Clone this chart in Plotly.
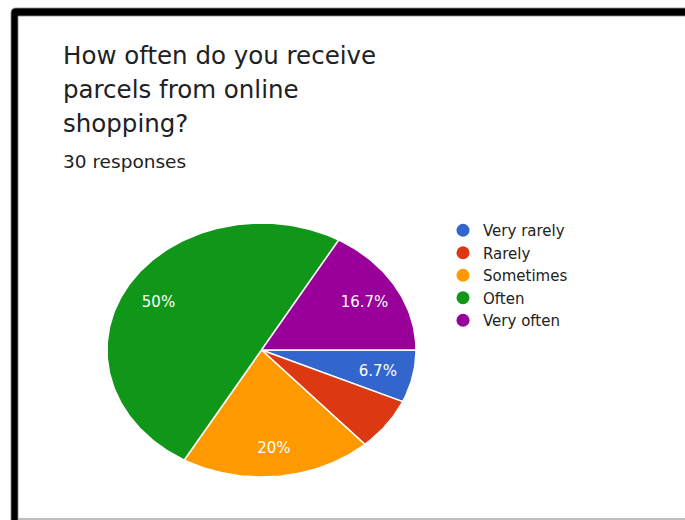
import numpy as np
import plotly.graph_objects as go

# Survey answers: "How often do you receive parcels from online shopping?"
categories = ["Very rarely", "Rarely", "Sometimes", "Often", "Very often"]
responses = [2, 2, 6, 15, 5]
colors = ["#3366cc", "#dc3912", "#ff9900", "#109618", "#990099"]
show_label = [True, False, True, True, True]

title_lines = ["How often do you receive", "parcels from online", "shopping?"]
subtitle = "30 responses"

# Canvas and pie geometry (axes are mapped 1:1 to pixels)
W, H = 685, 520
CX, CY, RX, RY = 261.5, 350.0, 154.5, 127.0
LABEL_R = 0.77
LABEL_DY = 2
FONT = "DejaVu Sans"

total = sum(responses)
fractions = [v / total for v in responses]
edges = np.concatenate([[0.0], np.cumsum(fractions)]) * 2 * np.pi

fig = go.Figure()

# Pie wedges, clockwise from 3 o'clock
lab_x, lab_y, lab_t = [], [], []
for cat, frac, col, a0, a1, show in zip(categories, fractions, colors,
                                        edges[:-1], edges[1:], show_label):
    n = max(int(np.ceil((a1 - a0) / (2 * np.pi) * 360)), 2)
    t = np.linspace(a0, a1, n + 1)
    xs = np.concatenate([[CX], CX + RX * np.cos(t), [CX]])
    ys = np.concatenate([[CY], CY + RY * np.sin(t), [CY]])
    fig.add_trace(go.Scatter(
        x=xs, y=ys, mode="lines", fill="toself", fillcolor=col,
        line=dict(color="white", width=1.5), hoverinfo="skip",
        showlegend=False,
    ))
    if show:
        mid = (a0 + a1) / 2
        lab_x.append(CX + LABEL_R * RX * np.cos(mid))
        lab_y.append(CY + LABEL_R * RY * np.sin(mid) + LABEL_DY)
        lab_t.append(f"{round(frac * 100, 1):g}%")

# Percentage labels inside the slices
fig.add_trace(go.Scatter(
    x=lab_x, y=lab_y, mode="text", text=lab_t,
    textposition="middle center",
    textfont=dict(family=FONT, size=15, color="white"),
    hoverinfo="skip", showlegend=False,
))

# Legend entries (round swatches)
for cat, col in zip(categories, colors):
    fig.add_trace(go.Scatter(
        x=[None], y=[None], mode="markers", name=cat,
        marker=dict(symbol="circle", size=13, color=col),
    ))

# Question title and response count
annotations = []
for i, line in enumerate(title_lines):
    annotations.append(dict(
        text=line, x=61, y=55 + 34 * i, xref="x", yref="y",
        xanchor="left", yanchor="middle", showarrow=False,
        font=dict(family=FONT, size=24.5, color="#202124"),
    ))
annotations.append(dict(
    text=subtitle, x=61, y=161, xref="x", yref="y",
    xanchor="left", yanchor="middle", showarrow=False,
    font=dict(family=FONT, size=18.5, color="#202124"),
))

# Frame around the card
shapes = [
    dict(type="path",
         path=f"M 11,{H + 5} L 11,13 Q 11,8 16,8 L {W + 5},8 L {W + 5},16 "
              f"L 18,16 L 18,{H + 5} Z",
         xref="x", yref="y", fillcolor="black",
         line=dict(color="#888888", width=0.8), layer="above"),
    dict(type="line", x0=18, x1=W, y0=519, y1=519, xref="x", yref="y",
         line=dict(color="#a8a8a8", width=1.5), layer="above"),
]

fig.update_layout(
    width=W, height=H,
    margin=dict(l=0, r=0, t=0, b=0),
    paper_bgcolor="white", plot_bgcolor="white",
    xaxis=dict(range=[0, W], visible=False, fixedrange=True),
    yaxis=dict(range=[H, 0], visible=False, fixedrange=True),
    showlegend=True,
    legend=dict(
        x=443 / W, y=1 - 214 / H, xanchor="left", yanchor="top",
        font=dict(family=FONT, size=15, color="#222222"),
        bgcolor="rgba(0,0,0,0)", borderwidth=0, tracegroupgap=0,
        itemclick=False, itemdoubleclick=False,
    ),
    annotations=annotations,
    shapes=shapes,
)

fig.write_html("out.html", config={"displayModeBar": False})
